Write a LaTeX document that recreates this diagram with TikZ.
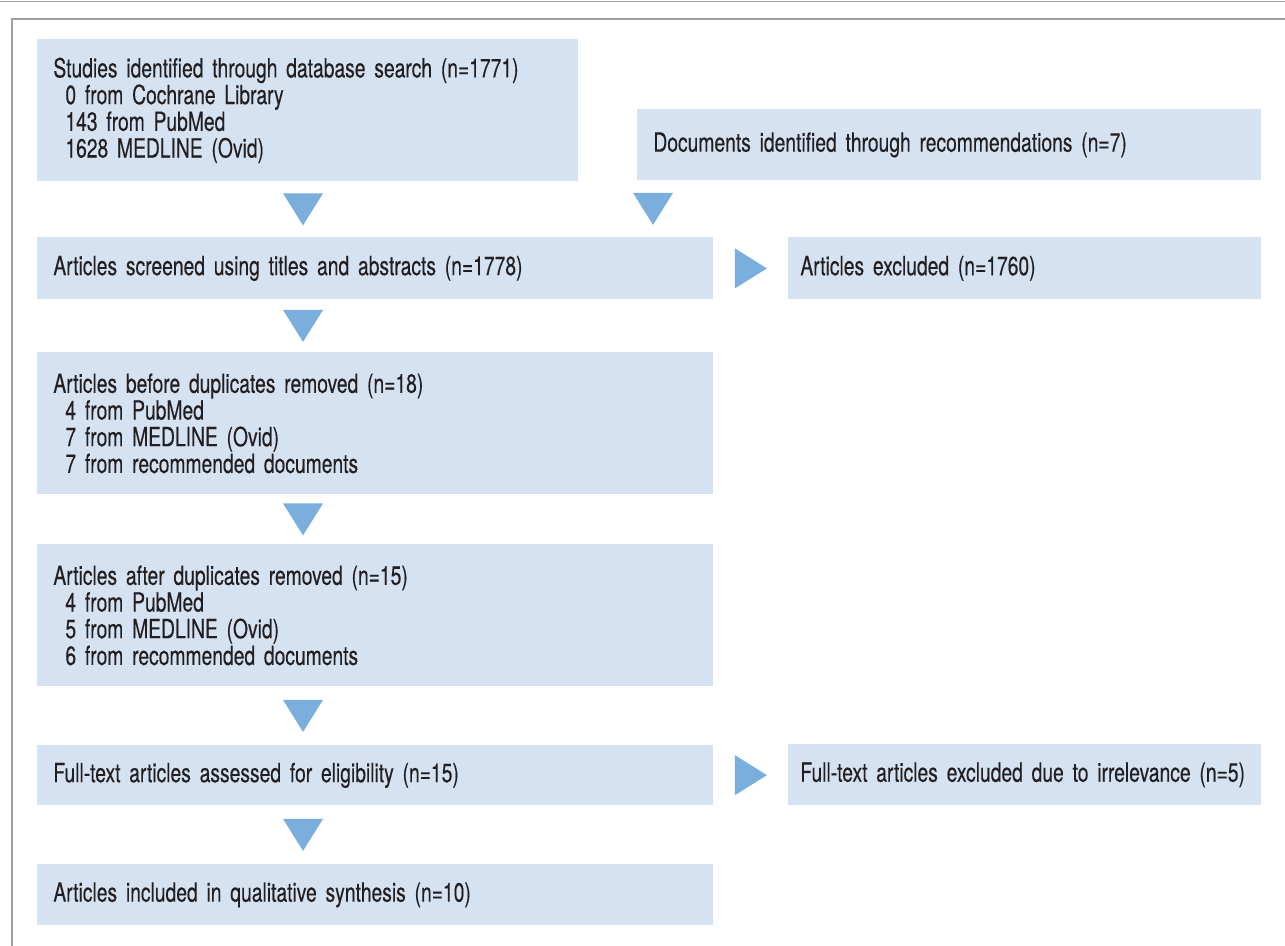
\documentclass[tikz,border=0pt]{standalone}
\usepackage{fontspec}
\setmainfont{TeX Gyre Heros}[FakeStretch=0.73, FakeBold=0.25]
\definecolor{pbblue}{RGB}{213,226,242}
\definecolor{pbarrow}{RGB}{122,174,221}
\definecolor{pbgray}{RGB}{160,160,160}
\definecolor{pbtext}{RGB}{35,31,32}
\usetikzlibrary{calc}

\begin{document}
\begin{tikzpicture}[x=0.5pt, y=-0.5pt,
  flowbox/.style 2 args={fill=pbblue, anchor=north west, inner xsep=8pt, inner ysep=0pt,
    text width=#1, minimum height=#2, align=left, text=pbtext,
    font={\fontsize{13.2}{13.35}\selectfont\spaceskip=2.5pt plus 1pt minus 0.5pt}},
  arrowfill/.style={fill=pbarrow}]

\useasboundingbox (0,0) rectangle (1285,946);

% Frame
\draw[pbgray, line width=0.75pt] (0,1.5) -- (1285,1.5);
\draw[pbgray, line width=0.75pt] (12,946) -- (12,19) -- (1285,19);

\node[flowbox={254.5pt}{71pt}] (s1) at (37,39) {%
  Studies identified through database search (n=1771)\\
  \hspace*{6pt}0 from Cochrane Library\\
  \hspace*{6pt}143 from PubMed\\
  \hspace*{6pt}1628 MEDLINE (Ovid)};

\node[flowbox={296pt}{35.5pt}] (s2) at (637,109) {%
  Documents identified through recommendations (n=7)};

\node[flowbox={322pt}{31pt}] (s3) at (37,237) {%
  Articles screened using titles and abstracts (n=1778)};

\node[flowbox={224.5pt}{31pt}, inner xsep=6pt] (s4) at (788,237) {%
  Articles excluded (n=1760)};

\node[flowbox={322pt}{71pt}] (s5) at (37,352) {%
  Articles before duplicates removed (n=18)\\
  \hspace*{6pt}4 from PubMed\\
  \hspace*{6pt}7 from MEDLINE (Ovid)\\
  \hspace*{6pt}7 from recommended documents};

\node[flowbox={322pt}{71pt}] (s6) at (37,544) {%
  Articles after duplicates removed (n=15)\\
  \hspace*{6pt}4 from PubMed\\
  \hspace*{6pt}5 from MEDLINE (Ovid)\\
  \hspace*{6pt}6 from recommended documents};

\node[flowbox={322pt}{30pt}] (s7) at (37,745) {%
  Full-text articles assessed for eligibility (n=15)};

\node[flowbox={224.5pt}{30.5pt}, inner xsep=6pt] (s8) at (788,744) {%
  \mbox{Full-text articles excluded due to irrelevance (n=5)}};

\node[flowbox={322pt}{30.5pt}] (s9) at (37,864) {%
  Articles included in qualitative synthesis (n=10)};

% Arrows
\coordinate (axis) at (303,0);
\foreach \a/\b in {s1/s3, s3/s5, s5/s6, s6/s7, s7/s9}
  \fill[arrowfill] ($(axis |- \a.south)!0.5!(axis |- \b.north)$)
    ++(-20,-16) -- ++(40,0) -- ++(-20,32) -- cycle;
\fill[arrowfill] ($(s2.south west)!0.5!(s2.south west |- s3.north)+(16,0)$)
  ++(-20,-16) -- ++(40,0) -- ++(-20,32) -- cycle;
\foreach \a/\b in {s3/s4, s7/s8}
  \fill[arrowfill] ($(\a.east)!0.5!(\b.west)$)
    ++(-16,-20) -- ++(0,40) -- ++(32,-20) -- cycle;

\end{tikzpicture}
\end{document}
